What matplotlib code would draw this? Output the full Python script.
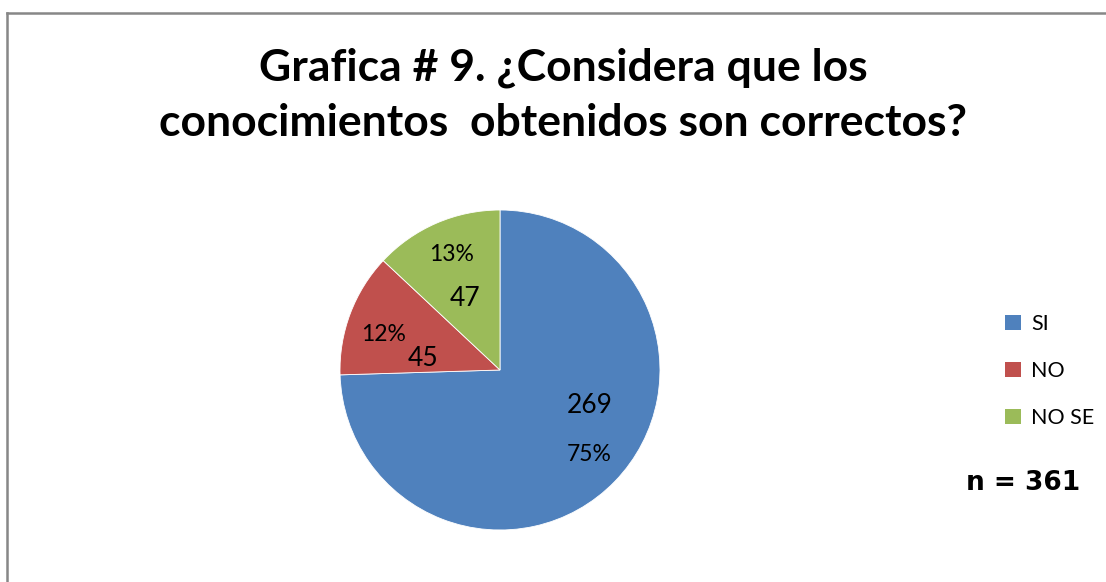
import matplotlib

matplotlib.use("Agg")
import matplotlib.pyplot as plt
from matplotlib.lines import Line2D
from matplotlib.patches import Patch

categories = ["SI", "NO", "NO SE"]
counts = [269, 45, 47]
percent_labels = ["75%", "12%", "13%"]
total_n = 361
title_text = "Grafica # 9. ¿Considera que los\nconocimientos  obtenidos son correctos?"

colors = ["#4F81BD", "#C0504D", "#9BBB59"]
# label anchors in pie data units (count, percent)
count_pos = [(0.56, -0.22), (-0.48, 0.07), (-0.22, 0.45)]
pct_pos = [(0.56, -0.53), (-0.73, 0.22), (-0.30, 0.72)]

W, H = 1106, 582
fig = plt.figure(figsize=(W / 100, H / 100), dpi=100)
plt.rcParams["font.family"] = ["Lato", "DejaVu Sans"]

# chart border (only top and left visible in crop)
fig.add_artist(Line2D([6.5 / W, 1], [1 - 12.5 / H] * 2, transform=fig.transFigure, color="#878787", lw=1.8))
fig.add_artist(Line2D([6.5 / W] * 2, [0, 1 - 12.5 / H], transform=fig.transFigure, color="#878787", lw=1.8))

cx, cy, r = 500, 370, 160
ax = fig.add_axes([(cx - r) / W, (H - cy - r) / H, 2 * r / W, 2 * r / H])
ax.pie(
    counts,
    colors=colors,
    startangle=90,
    counterclock=False,
    wedgeprops=dict(edgecolor="white", linewidth=0.6),
    radius=1.0,
)
ax.set_xlim(-1, 1)
ax.set_ylim(-1, 1)
ax.set_aspect("equal")

for (x, y), c in zip(count_pos, counts):
    ax.text(x, y, str(c), ha="center", va="center", fontsize=19, color="black")
for (x, y), p in zip(pct_pos, percent_labels):
    ax.text(x, y, p, ha="center", va="center", fontsize=16.5, color="black")

fig.text(563 / W, 1 - 95 / H, title_text, ha="center", va="center",
         fontsize=32, fontweight="bold", linespacing=1.45)

handles = [Patch(facecolor=c, edgecolor="none") for c in colors]
fig.legend(handles, categories, loc="center left", bbox_to_anchor=(1005 / W, 1 - 371 / H),
           frameon=False, fontsize=15.5, handlelength=0.75, handleheight=0.75,
           handletextpad=0.45, labelspacing=1.25, borderaxespad=0, borderpad=0)

fig.text(1023 / W, 1 - 483 / H, f"n = {total_n}", ha="center", va="center",
         fontsize=19, fontweight="bold", family=["DejaVu Sans"])

fig.savefig("out.png", dpi=100)
